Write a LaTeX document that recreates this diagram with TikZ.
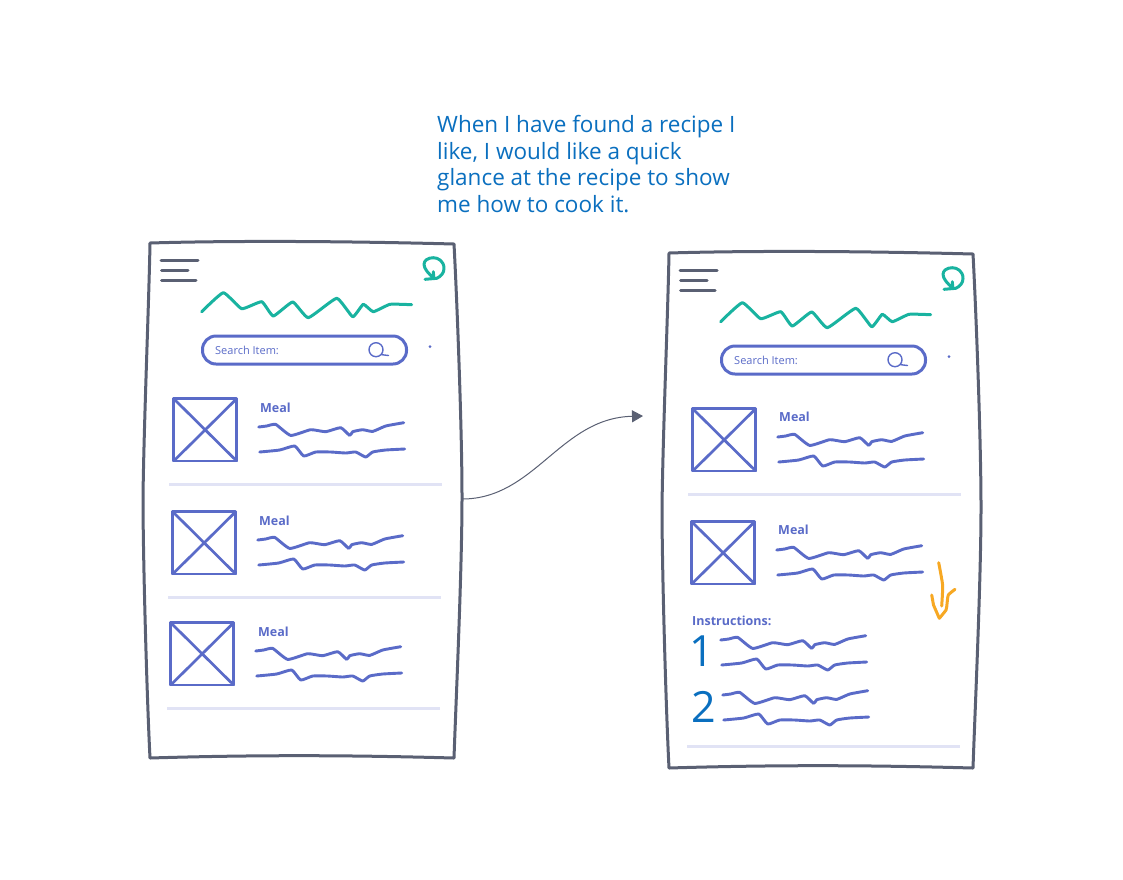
\documentclass[tikz,border=0pt]{standalone}
\usepackage{fontspec}
\setmainfont{Open Sans}
\usetikzlibrary{arrows.meta}
\definecolor{ink}{HTML}{5A6073}
\definecolor{penblue}{HTML}{5A6BC8}
\definecolor{teal}{HTML}{19B3A0}
\definecolor{rule}{HTML}{E1E3F5}
\definecolor{amber}{HTML}{F7A823}
\definecolor{bluetext}{HTML}{0A6FBF}
\tikzset{
  every path/.style={line join=round,line cap=round},
  framepath/.style={draw=ink,line width=3pt},
  burger/.style={draw=ink,line width=3pt},
  logoline/.style={draw=teal,line width=3pt},
  scrib/.style={draw=penblue,line width=2.9pt},
  boxline/.style={draw=penblue,line width=2.7pt},
  divider/.style={draw=rule,line width=3pt,line cap=butt},
  mealtext/.style={text=penblue,font=\fontsize{12.5}{15}\selectfont\bfseries,inner sep=0pt,anchor=west},
  searchtext/.style={text=penblue,font=\fontsize{11}{13}\selectfont,inner sep=0pt,anchor=west},
  digit/.style={text=bluetext,font=\fontsize{43}{48}\selectfont,inner sep=0pt},
  pics/wave/.style={code={
    \draw[scrib] plot[smooth,tension=.3] coordinates {(0,0)(8,-1)(17,-2.6)(32,8.4)(52,2.7)(67,4.7)(82,.7)(91,8.4)(94,4.7)(104,2.7)(114,4.4)(127,-1)(145,-4.3)};
    \draw[scrib] plot[smooth,tension=.3] coordinates {(1,25)(21,23)(36,19)(45,29)(57,25)(72,25)(87,26)(97,25)(107,30)(114,25)(127,23)(146,22)};
  }},
  pics/thumb/.style={code={
    \draw[boxline] (.7,.7) -- (63.7,.7) -- (63.7,63) -- (.7,63) -- cycle;
    \draw[boxline] (.7,.7) -- (63.7,63) (63.7,.7) -- (.7,63);
    \pic at (85.7,29) {wave};
  }},
  pics/framecontent/.style={code={
    \draw[framepath] (150,243) .. controls (200,241.5) and (300,240) .. (454,244)
      .. controls (457,300) and (462,430) .. (462,497)
      .. controls (462,570) and (456,700) .. (454,758)
      .. controls (380,756) and (280,754) .. (150,758)
      .. controls (147,700) and (143,560) .. (143,497)
      .. controls (144,420) and (149,300) .. (150,243);
    \draw[burger] (161,260) -- (198,260) (161.5,270) -- (188,270) (161.5,280) -- (196,280);
    \draw[logoline] (425,279.3) -- (436.7,278.3)
      .. controls (441,276.5) and (444,273) .. (444,268.3)
      .. controls (444,261) and (438,257.7) .. (433.3,257.7)
      .. controls (428,257.7) and (424,260.5) .. (424,264.3)
      .. controls (424,269) and (429,274) .. (433.3,277.7)
      (433.3,271.7) -- (433.8,277.7);
    \draw[logoline] plot[smooth,tension=.25] coordinates {(201.7,311.7)(223.3,292.7)(241.7,308.7)(261.7,301.7)(273.3,316)(292.7,302)(308.3,317.7)(336.7,298.3)(352.7,316.7)(363.3,304.3)(373.3,311.7)(390,304.3)(411.7,304.7)};
    \draw[penblue,line width=3pt,rounded corners=13.5pt] (202.5,336) rectangle (406.5,364);
    \draw[penblue,line width=1.4pt] (376,349.7) circle[radius=7] (381,354.6) -- (388.5,355.5);
    \fill[penblue] (430,346.7) circle[radius=1.5];
  }},
}
\begin{document}
\begin{tikzpicture}[x=1pt,y=-1pt]
\useasboundingbox (0,0) rectangle (1123,879);
\fill[white] (0,0) rectangle (1123,879);
\node[text=bluetext,font=\fontsize{22.5}{26.7}\selectfont,align=left,anchor=north west,inner sep=0pt] (caption) at (437,115)
  {When I have found a recipe I\\like, I would like a quick\\glance at the recipe to show\\me how to cook it.};
% left screen
\pic at (0,0) {framecontent};
\node[searchtext] (search1) at (215,350.5) {Search Item:};
\pic at (173,398) {thumb};
\node[mealtext] (meal1) at (260,407.5) {Meal};
\draw[divider] (169,484) -- (442,484);
\pic at (172,511) {thumb};
\node[mealtext] (meal2) at (259,520.5) {Meal};
\draw[divider] (168,597) -- (441,597);
\pic at (170,622) {thumb};
\node[mealtext] (meal3) at (258,631.5) {Meal};
\draw[divider] (167,708) -- (440,708);
% right screen
\pic at (519,10) {framecontent};
\node[searchtext] (search2) at (734,360.5) {Search Item:};
\pic at (692,408) {thumb};
\node[mealtext] (meal4) at (779,416.5) {Meal};
\draw[divider] (688,494) -- (961,494);
\pic at (691,521) {thumb};
\node[mealtext] (meal5) at (778,529.5) {Meal};
\node[mealtext] (instr) at (692,620.5) {Instructions:};
\node[digit] (one) at (702,651) {1};
\pic at (720.7,640) {wave};
\node[digit] (two) at (703.5,707) {2};
\pic at (722.7,695) {wave};
\draw[divider] (687,746) -- (960,746);
\draw[draw=amber,line width=3pt] plot[smooth,tension=.4] coordinates {(938.7,562.7)(941,575)(942.7,586.7)(941.7,606)};
\draw[draw=amber,line width=3pt] plot[smooth,tension=.3] coordinates {(955,589.3)(948.3,595)(947,604)(946,610)(939.3,618.3)};
\draw[draw=amber,line width=3pt] (939.3,618.3) -- (933.5,605) -- (931.7,595);
% connector
\coordinate (from) at (462,499);
\coordinate (to) at (643,416);
\draw[ink,line width=1pt,-{Triangle[length=11pt,width=12pt]}] (from) .. controls (535,499) and (560,418) .. (to);
\end{tikzpicture}
\end{document}
